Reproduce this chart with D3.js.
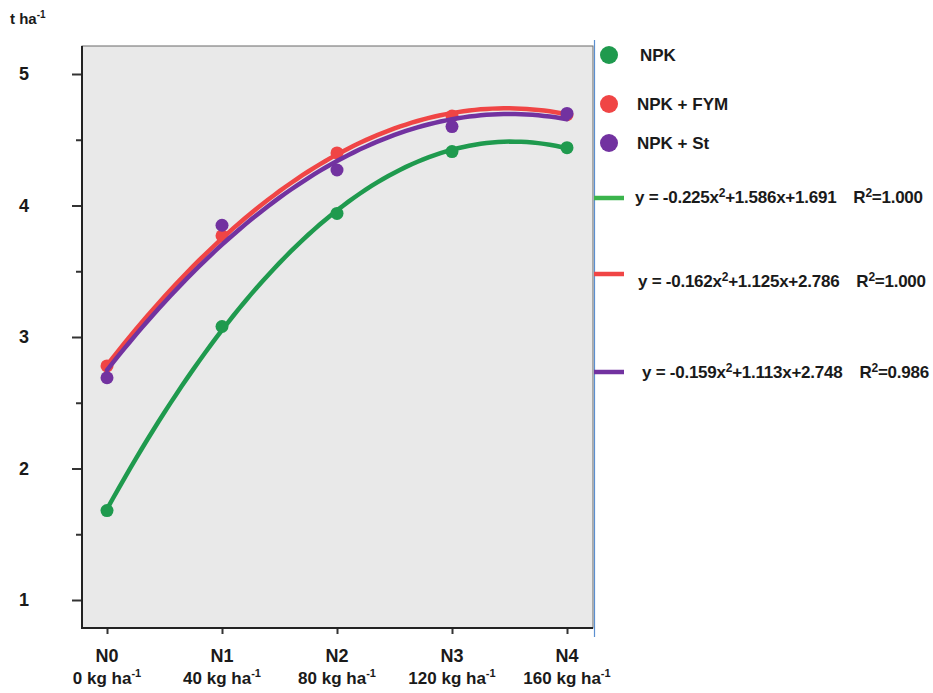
<!DOCTYPE html>
<html>
<head>
<meta charset="utf-8">
<script src="https://cdn.jsdelivr.net/npm/d3@7"></script>
<style>
  body { margin: 0; background: #fff; }
  svg { display: block; font-family: "Liberation Sans", Arial, sans-serif; font-weight: bold; }
</style>
</head>
<body>
<svg id="chart" width="933" height="693"></svg>
<script>
// data
var levels = ["N0", "N1", "N2", "N3", "N4"];
var doses = ["0", "40", "80", "120", "160"];
var seriesNames = ["NPK", "NPK + FYM", "NPK + St"];
var npk = [1.68, 3.08, 3.94, 4.41, 4.44];
var npkFym = [2.78, 3.77, 4.40, 4.68, 4.69];
var npkSt = [2.69, 3.85, 4.27, 4.60, 4.70];
// trend line coefficients [a, b, c] for y = a x^2 + b x + c, x = 0..4
var fitNpk = [-0.225, 1.586, 1.691];
var fitFym = [-0.162, 1.125, 2.786];
var fitSt = [-0.159, 1.113, 2.748];
var r2 = ["1.000", "1.000", "0.986"];
var yTicks = [1, 2, 3, 4, 5];
var yMinor = [1.5, 2.5, 3.5, 4.5];

var colors = ["#1f9a4e", "#f04545", "#7232a0"];
var lineColors = ["#3bb44c", "#f04545", "#7232a0"];

var svg = d3.select("#chart");

// plot box
var boxL = 82, boxT = 46, boxR = 593, boxB = 628;

var x = d3.scalePoint().domain(levels).range([107, 567]);
var xLin = d3.scaleLinear().domain([0, 4]).range([107, 567]);
var y = d3.scaleLinear().domain([1, 5]).range([600, 74]);

svg.append("rect")
  .attr("x", boxL).attr("y", boxT)
  .attr("width", boxR - boxL).attr("height", boxB - boxT)
  .attr("fill", "#e9e9e9")
  .attr("stroke", "#6b6b6b").attr("stroke-width", 1);

// blue edge on the right
svg.append("line")
  .attr("x1", boxR + 1.5).attr("x2", boxR + 1.5)
  .attr("y1", boxT - 6).attr("y2", boxB + 9)
  .attr("stroke", "#5b8fd0").attr("stroke-width", 1.2);

// y axis
var yAxis = svg.append("g")
  .attr("transform", "translate(" + boxL + ",0)")
  .call(d3.axisLeft(y).tickValues(yTicks).tickSize(10).tickPadding(48).tickFormat(d3.format("d")));
yAxis.select(".domain").remove();
yAxis.selectAll("line").attr("stroke", "#333").attr("stroke-width", 2);
yAxis.selectAll("text").attr("font-size", 18).attr("fill", "#1a1a1a")
  .attr("text-anchor", "middle");

var yAxisMinor = svg.append("g")
  .attr("transform", "translate(" + boxL + ",0)")
  .call(d3.axisLeft(y).tickValues(yMinor).tickSize(6).tickFormat(""));
yAxisMinor.select(".domain").remove();
yAxisMinor.selectAll("line").attr("stroke", "#333").attr("stroke-width", 2);

svg.append("line")
  .attr("x1", boxL).attr("x2", boxL).attr("y1", boxT).attr("y2", boxB + 1)
  .attr("stroke", "#222").attr("stroke-width", 2);

// x axis
var xAxis = svg.append("g")
  .attr("transform", "translate(0," + boxB + ")")
  .call(d3.axisBottom(x).tickSize(6).tickFormat(""));
xAxis.select(".domain").remove();
xAxis.selectAll("line").attr("stroke", "#333").attr("stroke-width", 2);

svg.append("line")
  .attr("x1", boxL - 1).attr("x2", boxR).attr("y1", boxB).attr("y2", boxB)
  .attr("stroke", "#222").attr("stroke-width", 2);

levels.forEach(function(lv, i) {
  svg.append("text")
    .attr("x", x(lv)).attr("y", 662)
    .attr("text-anchor", "middle").attr("font-size", 18).attr("fill", "#1a1a1a")
    .text(lv);
  var t = svg.append("text")
    .attr("x", x(lv)).attr("y", 684)
    .attr("text-anchor", "middle").attr("font-size", 17).attr("fill", "#1a1a1a");
  t.append("tspan").text(doses[i] + " kg ha");
  t.append("tspan").attr("font-size", 11).attr("dy", -7).text("-1");
});

// y unit label
var unit = svg.append("text").attr("x", 10).attr("y", 24).attr("font-size", 15).attr("fill", "#1a1a1a");
unit.append("tspan").text("t ha");
unit.append("tspan").attr("font-size", 10).attr("dy", -6).text("-1");

// trend curves and points
var series = [npk, npkFym, npkSt];
var fits = [fitNpk, fitFym, fitSt];
var line = d3.line()
  .x(function(d) { return xLin(d[0]); })
  .y(function(d) { return y(d[1]); });

series.forEach(function(vals, s) {
  var c = fits[s];
  var pts = d3.range(0, 4.0001, 0.05).map(function(t) {
    return [t, c[0] * t * t + c[1] * t + c[2]];
  });
  svg.append("path")
    .datum(pts)
    .attr("d", line)
    .attr("fill", "none")
    .attr("stroke", colors[s])
    .attr("stroke-width", 4.5)
    .attr("stroke-linecap", "round");
  svg.selectAll(".dot" + s)
    .data(vals)
    .enter().append("circle")
    .attr("class", "dot" + s)
    .attr("cx", function(d, i) { return x(levels[i]); })
    .attr("cy", function(d) { return y(d); })
    .attr("r", 6.5)
    .attr("fill", colors[s]);
});

// legend: markers
var legY = [55, 104, 143];
var legTextX = [640, 637, 637];
seriesNames.forEach(function(name, s) {
  svg.append("circle").attr("cx", 609).attr("cy", legY[s]).attr("r", 9).attr("fill", colors[s]);
  svg.append("text").attr("x", legTextX[s]).attr("y", legY[s] + 6)
    .attr("font-size", 17).attr("fill", "#1a1a1a").text(name);
});

// legend: equations
var eqY = [198, 274, 372];
var eqBase = [203, 287, 378];
var eqX = [635, 638, 642];
function fmt(v) { return d3.format(".3f")(Math.abs(v)); }
fits.forEach(function(c, s) {
  svg.append("line")
    .attr("x1", 594).attr("x2", 624).attr("y1", eqY[s]).attr("y2", eqY[s])
    .attr("stroke", lineColors[s]).attr("stroke-width", 4.5);
  var t = svg.append("text").attr("x", eqX[s]).attr("y", eqBase[s])
    .attr("font-size", 17).attr("fill", "#1a1a1a").attr("letter-spacing", -0.25);
  t.append("tspan").text("y = " + (c[0] < 0 ? "-" : "") + fmt(c[0]) + "x");
  t.append("tspan").attr("font-size", 12).attr("dy", -6).text("2");
  t.append("tspan").attr("dy", 6).text("+" + fmt(c[1]) + "x+" + fmt(c[2]));
  var w = t.node().getComputedTextLength();
  var r = svg.append("text").attr("x", eqX[s] + w + 17).attr("y", eqBase[s])
    .attr("font-size", 17).attr("fill", "#1a1a1a").attr("letter-spacing", -0.25);
  r.append("tspan").text("R");
  r.append("tspan").attr("font-size", 12).attr("dy", -6).text("2");
  r.append("tspan").attr("dy", 6).text("=" + r2[s]);
});
</script>
</body>
</html>
